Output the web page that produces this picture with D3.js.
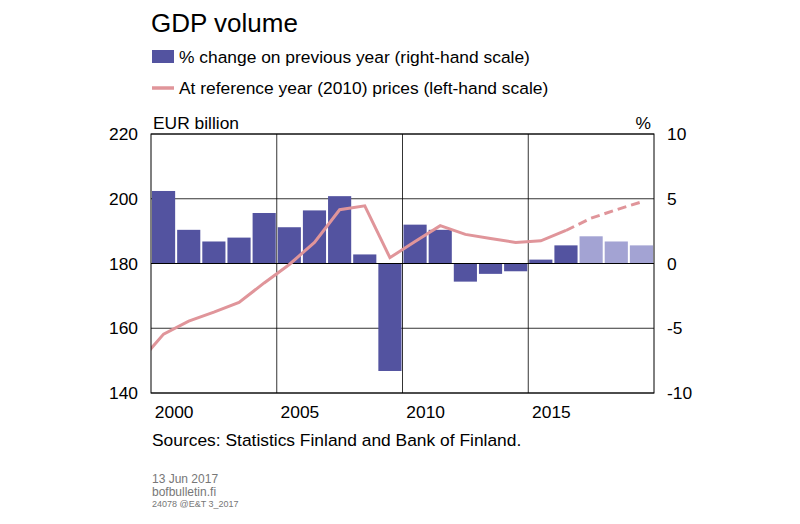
<!DOCTYPE html>
<html><head><meta charset="utf-8">
<script src="https://cdn.jsdelivr.net/npm/d3@7"></script>
<style>body{margin:0;background:#fff}text{font-family:"Liberation Sans",Arial,sans-serif}</style>
</head><body><svg id="c" width="800" height="524"></svg>
<script>
const years=[2000,2001,2002,2003,2004,2005,2006,2007,2008,2009,2010,2011,2012,2013,2014,2015,2016,2017,2018,2019];
const pctChange=[5.6,2.6,1.7,2.0,3.9,2.8,4.1,5.2,0.7,-8.3,3.0,2.6,-1.4,-0.8,-0.6,0.3,1.4,2.1,1.7,1.4];
const forecastFrom=2017;
const levelYears=[1999,2000,2001,2002,2003,2004,2005,2006,2007,2008,2009,2010,2011,2012,2013,2014,2015,2016,2017,2018,2019];
const level=[149.2,158.2,162.2,165,168,174,179.7,186.5,196.6,197.8,181.8,186.8,191.7,189,187.7,186.5,187,190.2,194,196.6,199];
const leftTicks=[140,160,180,200,220];
const rightTicks=[-10,-5,0,5,10];
const xTicks=[2000,2005,2010,2015];

const svg=d3.select("#c");
const L=151,R=654,T=134,B=393;
const x=d3.scaleLinear().domain([2000,2020]).range([L,R]);
const yl=d3.scaleLinear().domain([140,220]).range([B,T]);
const yr=d3.scaleLinear().domain([-10,10]).range([B,T]);
const bw=(R-L)/20;
const fs=17.4;

svg.append("text").attr("x",151).attr("y",32).attr("font-size",26).text("GDP volume");
svg.append("rect").attr("x",152).attr("y",50).attr("width",22).attr("height",13).attr("fill","#5353a0");
svg.append("text").attr("x",179).attr("y",63).attr("font-size",fs).text("% change on previous year (right-hand scale)");
svg.append("line").attr("x1",152).attr("x2",174).attr("y1",88).attr("y2",88).attr("stroke","#e0959a").attr("stroke-width",3.5);
svg.append("text").attr("x",179).attr("y",94).attr("font-size",fs).text("At reference year (2010) prices (left-hand scale)");
svg.append("text").attr("x",153).attr("y",129).attr("font-size",fs).text("EUR billion");
svg.append("text").attr("x",651).attr("y",129).attr("font-size",fs).attr("text-anchor","end").text("%");

const g=svg.append("g");
g.selectAll(".hg").data(leftTicks).join("line").attr("x1",L).attr("x2",R).attr("y1",d=>yl(d)).attr("y2",d=>yl(d)).attr("stroke","#000").attr("stroke-width",0.8);
g.selectAll(".vg").data(xTicks.slice(1)).join("line").attr("x1",d=>x(d)).attr("x2",d=>x(d)).attr("y1",T).attr("y2",B).attr("stroke","#000").attr("stroke-width",0.8);
g.selectAll(".b").data(years).join("rect")
 .attr("x",(d)=>x(d)+1).attr("width",bw-2)
 .attr("y",(d,i)=>yr(Math.max(0,pctChange[i]))).attr("height",(d,i)=>Math.abs(yr(pctChange[i])-yr(0)))
 .attr("fill",d=>d>=forecastFrom?"#a3a3d3":"#5353a0");
g.append("line").attr("x1",L).attr("x2",R).attr("y1",yr(0)).attr("y2",yr(0)).attr("stroke","#000").attr("stroke-width",1);
svg.append("clipPath").attr("id","cl").append("rect").attr("x",L).attr("y",T).attr("width",R-L).attr("height",B-T);
const pts=levelYears.map((y,i)=>[x(y+0.5),yl(level[i])]);
const line=d3.line();
const ci=levelYears.indexOf(2016);
g.append("path").attr("clip-path","url(#cl)").attr("d",line(pts.slice(0,ci+1))).attr("fill","none").attr("stroke","#e0959a").attr("stroke-width",3);
g.append("path").attr("d",line(pts.slice(ci))).attr("fill","none").attr("stroke","#e0959a").attr("stroke-width",3).attr("stroke-dasharray","9,5");
g.append("rect").attr("x",L).attr("y",T).attr("width",R-L).attr("height",B-T).attr("fill","none").attr("stroke","#000").attr("stroke-width",1);
svg.selectAll(".lt").data(leftTicks).join("text").attr("x",138).attr("y",d=>yl(d)+6).attr("text-anchor","end").attr("font-size",fs).text(d=>d);
svg.selectAll(".rt").data(rightTicks).join("text").attr("x",667).attr("y",d=>yr(d)+6).attr("font-size",fs).text(d=>d);
svg.selectAll(".xt").data(xTicks).join("text").attr("x",d=>x(d)+bw-2).attr("y",418).attr("text-anchor","middle").attr("font-size",fs).text(d=>d);
svg.append("text").attr("x",152).attr("y",446).attr("font-size",fs).text("Sources: Statistics Finland and Bank of Finland.");
svg.append("text").attr("x",152).attr("y",483).attr("font-size",12).attr("fill","#777").text("13 Jun 2017");
svg.append("text").attr("x",152).attr("y",496).attr("font-size",12).attr("fill","#777").text("bofbulletin.fi");
svg.append("text").attr("x",152).attr("y",507).attr("font-size",9).attr("fill","#777").text("24078 @E&T 3_2017");
</script></body></html>
